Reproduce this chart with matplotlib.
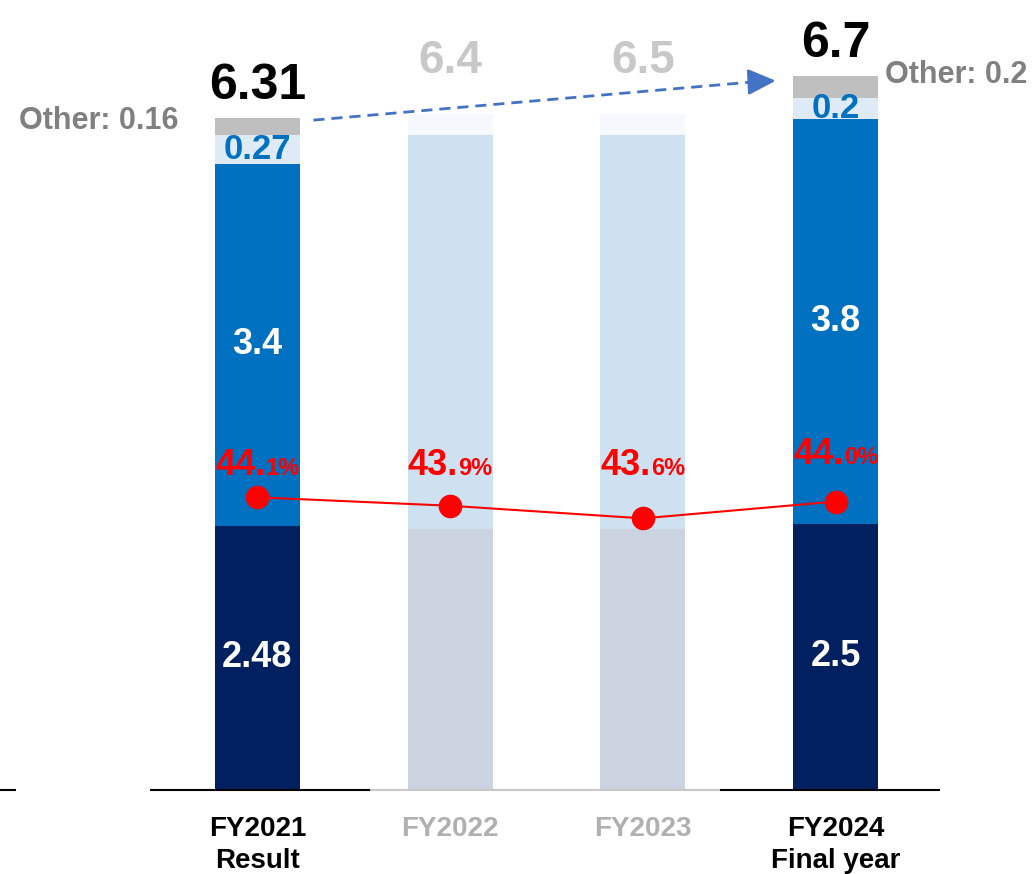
import matplotlib
matplotlib.use("Agg")
import matplotlib.pyplot as plt
import numpy as np

plt.rcParams['font.family'] = ['Liberation Sans', 'DejaVu Sans']
plt.rcParams['font.weight'] = 'bold'

# data
years = ["FY2021", "FY2022", "FY2023", "FY2024"]
sublabels = ["Result", "", "", "Final year"]
base = [2.48, 2.45, 2.45, 2.5]
main = [3.4, 3.7, 3.7, 3.8]
sub = [0.27, 0.2, 0.2, 0.2]
other = [0.16, 0.05, 0.15, 0.2]
ratio = [44.1, 43.9, 43.6, 44.0]
highlight = [True, False, False, True]

totals = np.array(base) + np.array(main) + np.array(sub) + np.array(other)

# colours: full and faded versions
c_base = ("#002060", "#cbd3e0")
c_main = ("#0070c0", "#cde1f1")
c_sub = ("#deebf7", "#f5f9fd")
c_other = ("#bfbfbf", "#ffffff")

fig = plt.figure(figsize=(10.35, 8.74), dpi=100)
ax = fig.add_axes([0, 0, 1, 1])
x = np.arange(len(years))
w = 0.441

ax.set_xlim(-1.336, 4.035)
ax.set_ylim(-0.789, 7.418)
ax.axis("off")

for i in x:
    k = 0 if highlight[i] else 1
    b0 = 0
    for vals, cols in [(base, c_base), (main, c_main), (sub, c_sub), (other, c_other)]:
        ax.bar(i, vals[i], w, bottom=b0, color=cols[k], linewidth=0)
        b0 += vals[i]

    if highlight[i]:
        ax.text(i, base[i] / 2, f"{base[i]:g}", ha="center", va="center",
                color="white", fontsize=26)
        ax.text(i, base[i] + main[i] / 2, f"{main[i]:g}", ha="center", va="center",
                color="white", fontsize=26)
        ax.text(i, base[i] + main[i] + sub[i] / 2, f"{sub[i]:g}", ha="center",
                va="center", color="#0070c0", fontsize=25)
        ax.annotate(f"{totals[i]:g}", xy=(i, totals[i]), xytext=(0, 14),
                    textcoords="offset points", ha="center", va="baseline",
                    fontsize=36, color="black")
    else:
        top = base[i] + main[i] + sub[i]
        ax.annotate(f"{totals[i]:g}", xy=(i, top), xytext=(0, 29),
                    textcoords="offset points", ha="center", va="baseline",
                    fontsize=33, color="#c8c8c8")

    # category labels
    ax.text(i, -0.37, years[i], ha="center", va="center", fontsize=20,
            color="black" if highlight[i] else "#b0b0b0")
    if sublabels[i]:
        ax.text(i, -0.67, sublabels[i], ha="center", va="center", fontsize=20,
                color="black")

# "Other" callouts
ax.text(0 - w / 2 - 0.19, totals[0] - 0.03,
        f"Other: {other[0]:g}", ha="right", va="center", fontsize=22, color="#808080")
ax.text(3 + w / 2 + 0.035, totals[3] + 0.01,
        f"Other: {other[3]:g}", ha="left", va="center", fontsize=22, color="#808080")

# baseline
ax.plot([-0.558, 0.584], [0, 0], color="black", lw=1.5, solid_capstyle="butt")
ax.plot([0.584, 2.4], [0, 0], color="#c8c8c8", lw=1.5, solid_capstyle="butt")
ax.plot([2.4, 3.54], [0, 0], color="black", lw=1.5, solid_capstyle="butt")
ax.plot([-1.336, -1.253], [0, 0], color="black", lw=1.5, solid_capstyle="butt")

# dashed growth arrow
x0, y0 = 0 + w / 2 + 0.07, totals[0] - 0.02
x1, y1 = 3 - w / 2 - 0.2, totals[3] - 0.05
ax.plot([x0, x1], [y0, y1], color="#4472c4", lw=2, ls=(0, (4, 2.5)))
ax.annotate("", xy=(3 - w / 2 - 0.09, totals[3] - 0.04), xytext=(x1 - 0.01, y1),
            arrowprops=dict(arrowstyle="-|>,head_length=1.7,head_width=0.8",
                            color="#4472c4", lw=2, shrinkA=0, shrinkB=0))

# ratio line on a second axis
ax2 = fig.add_axes([0, 0, 1, 1], sharex=ax)
ax2.set_ylim(35.153, 55.913)
ax2.axis("off")
ax2.patch.set_visible(False)
ax2.plot(x, ratio, color="#ff0000", lw=1.5, marker="o", markersize=16,
         markerfacecolor="#ff0000", markeredgecolor="#ff0000")

# ratio labels: integer part large, decimal part small
label_dy = [22, 31, 43, 38]
renderer = fig.canvas.get_renderer()
for i in x:
    s = f"{ratio[i]:.1f}"
    big, small = s.split(".")[0] + ".", s.split(".")[1] + "%"
    t1 = ax2.text(0, 0, big, fontsize=26, color="#ff0000")
    t2 = ax2.text(0, 0, small, fontsize=17, color="#ff0000")
    w1 = t1.get_window_extent(renderer).width
    w2 = t2.get_window_extent(renderer).width
    t1.remove()
    t2.remove()
    start = -(w1 + w2) / 2
    ax2.annotate(big, xy=(i, ratio[i]), xytext=(start, label_dy[i]),
                 textcoords="offset pixels", ha="left", va="baseline",
                 fontsize=26, color="#ff0000")
    ax2.annotate(small, xy=(i, ratio[i]), xytext=(start + w1, label_dy[i]),
                 textcoords="offset pixels", ha="left", va="baseline",
                 fontsize=17, color="#ff0000")

fig.savefig("out.png", dpi=100)
